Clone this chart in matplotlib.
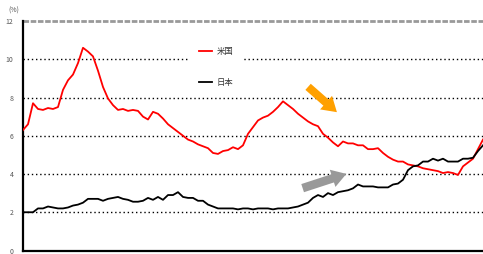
import numpy as np
import matplotlib
matplotlib.use('Agg')
import matplotlib.pyplot as plt
from matplotlib.patches import FancyArrowPatch

plt.rcParams['font.family'] = ['Noto Sans CJK JP', 'DejaVu Sans']

# 長期金利 (%)
us = [6.3, 6.6, 7.7, 7.4, 7.35, 7.45, 7.4, 7.5, 8.4, 8.9, 9.2, 9.8, 10.6, 10.4, 10.15, 9.4,
      8.55, 7.95, 7.6, 7.35, 7.4, 7.3, 7.35, 7.3, 7.0, 6.85, 7.25, 7.15, 6.9, 6.6, 6.4, 6.2,
      6.0, 5.8, 5.7, 5.55, 5.45, 5.35, 5.1, 5.05, 5.2, 5.25, 5.4, 5.3, 5.5, 6.1, 6.45, 6.8,
      6.95, 7.05, 7.25, 7.5, 7.8, 7.6, 7.4, 7.15, 6.95, 6.75, 6.6, 6.5, 6.1, 5.9, 5.65, 5.45,
      5.7, 5.6, 5.6, 5.5, 5.5, 5.3, 5.3, 5.35, 5.1, 4.9, 4.75, 4.65, 4.65, 4.5, 4.45, 4.4,
      4.3, 4.25, 4.2, 4.15, 4.05, 4.1, 4.05, 3.95, 4.4, 4.6, 4.8, 5.3, 5.8]
jp = [2.0, 2.0, 2.0, 2.2, 2.2, 2.3, 2.25, 2.2, 2.2, 2.25, 2.35, 2.4, 2.5, 2.7, 2.7, 2.7,
      2.6, 2.7, 2.75, 2.8, 2.7, 2.65, 2.55, 2.55, 2.6, 2.75, 2.65, 2.8, 2.65, 2.9, 2.9, 3.05,
      2.8, 2.75, 2.75, 2.6, 2.6, 2.4, 2.3, 2.2, 2.2, 2.2, 2.2, 2.15, 2.2, 2.2, 2.15, 2.2,
      2.2, 2.2, 2.15, 2.2, 2.2, 2.2, 2.25, 2.3, 2.4, 2.5, 2.75, 2.9, 2.8, 3.0, 2.9, 3.05,
      3.1, 3.15, 3.25, 3.45, 3.35, 3.35, 3.35, 3.3, 3.3, 3.3, 3.45, 3.5, 3.7, 4.2, 4.4, 4.45,
      4.65, 4.65, 4.8, 4.7, 4.8, 4.65, 4.65, 4.65, 4.8, 4.8, 4.85, 5.2, 5.5]
yticks = [0, 2, 4, 6, 8, 10, 12]

x = np.arange(len(us))

fig = plt.figure(figsize=(4.83, 2.54), dpi=100)
ax = fig.add_axes([23 / 483, 3.5 / 254, 460 / 483, 229.5 / 254])

for v in yticks[1:-1]:
    ax.axhline(v, color='black', lw=1.0, ls=(0, (1, 2)), zorder=1)
ax.axhline(12, color='#999999', lw=2.0, ls=(0, (2, 0.6)), zorder=1, clip_on=False)

ax.plot(x, us, color='#ff0000', lw=1.3, label='米国', zorder=3)
ax.plot(x, jp, color='black', lw=1.3, label='日本', zorder=3)

ax.set_xlim(0, len(us) - 1)
ax.set_ylim(0, 12)
ax.set_xticks([])
ax.set_yticks(yticks)
ax.tick_params(axis='y', length=0, pad=7, labelsize=5, labelcolor='#555555')
for s in ['top', 'right']:
    ax.spines[s].set_visible(False)
ax.spines['left'].set_linewidth(1.6)
ax.spines['bottom'].set_linewidth(1.6)

fig.text(14 / 483, 1 - 11 / 254, '(%)', fontsize=5, color='#555555', ha='center', va='center')

leg = ax.legend(loc='center', bbox_to_anchor=(216 / 483, 1 - 67 / 254),
                bbox_transform=fig.transFigure, fontsize=6, frameon=True,
                facecolor='white', edgecolor='none', framealpha=1,
                handlelength=1.6, handletextpad=0.5, labelspacing=2.6, borderpad=1.2)
for t in leg.get_texts():
    t.set_color('#333333')
leg.set_zorder(2)

def px(xp, yp):
    return (xp / 483, 1 - yp / 254)

orange = FancyArrowPatch(px(306, 85), px(339, 114), transform=fig.transFigure,
                         arrowstyle='simple,head_width=2.0,head_length=1.6,tail_width=0.9',
                         mutation_scale=6.5, color='#ffa000', lw=0, zorder=4)
gray = FancyArrowPatch(px(300, 189), px(349, 173), transform=fig.transFigure,
                       arrowstyle='simple,head_width=2.0,head_length=1.6,tail_width=0.95',
                       mutation_scale=6.5, color='#999999', lw=0, zorder=4)
fig.patches.extend([orange, gray])

fig.savefig('out.png', dpi=100)
